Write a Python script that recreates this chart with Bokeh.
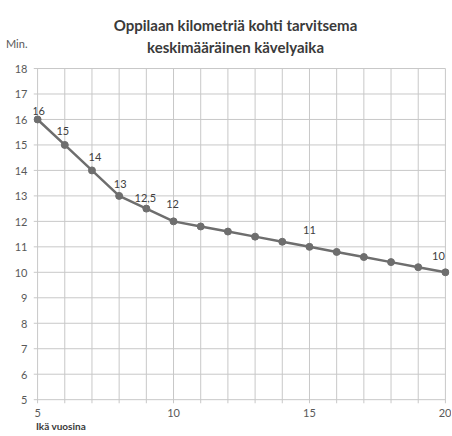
from bokeh.plotting import figure
from bokeh.models import Range1d, FixedTicker, Label, LinearAxis, ColumnDataSource
from bokeh.core.properties import value
from bokeh.embed import file_html
from bokeh.resources import INLINE

# --- data ---
ages = [5, 6, 7, 8, 9, 10, 11, 12, 13, 14, 15, 16, 17, 18, 19, 20]
minutes = [16, 15, 14, 13, 12.5, 12, 11.8, 11.6, 11.4, 11.2, 11, 10.8, 10.6, 10.4, 10.2, 10]
label_ages = [5, 6, 7, 8, 9, 10, 15, 20]
label_minutes = [16, 15, 14, 13, 12.5, 12, 11, 10]
label_texts = ["16", "15", "14", "13", "12,5", "12", "11", "10"]
x_ticks = [5, 10, 15, 20]
x_minor = list(range(5, 21))
y_ticks = list(range(5, 19))
title_lines = ["Oppilaan kilometriä kohti tarvitsema", "keskimääräinen kävelyaika"]
y_title = "Min."
x_title = "Ikä vuosina"

# --- style ---
label_dx = [1, -2, 3, 1, -1, -1, 0, -7]
label_dy = [-8, -14, -13, -12, -11, -17, -17, -16]
FONT = "Lato"
GRID = "#c8c8c8"
LINE = "#6e6e6e"
TXT = "#595959"
DARK = "#3a3a3a"
W, H = 451, 434
X0, X1 = 4.85, 20.15
Y0, Y1 = 4.85, 20.67
YTITLE_POS = 19.0
XTITLE_POS = 5.86

p = figure(width=W, height=H, output_backend="svg", toolbar_location=None,
           x_range=Range1d(X0, X1), y_range=Range1d(Y0, Y1),
           min_border_left=33, min_border_right=2, min_border_top=0, min_border_bottom=31)
p.outline_line_color = None
p.background_fill_color = "white"
p.grid.visible = False

def plain(ax):
    ax.axis_line_color = None
    ax.major_tick_line_color = None
    ax.minor_tick_line_color = None
    ax.major_tick_out = 0
    ax.minor_tick_out = 0
    ax.major_tick_in = 0
    ax.minor_tick_in = 0
    ax.major_label_text_font = FONT
    ax.major_label_text_font_size = "11px"
    ax.major_label_text_color = TXT

plain(p.xaxis[0])
plain(p.yaxis[0])
p.xaxis.ticker = FixedTicker(ticks=x_ticks)
p.xaxis.major_label_standoff = 5
p.yaxis.ticker = FixedTicker(ticks=y_ticks + [YTITLE_POS])
p.yaxis.major_label_overrides = {YTITLE_POS: y_title}
p.yaxis.major_label_standoff = 6

# x-axis caption as a second (label-only) axis below the first
cap = LinearAxis(ticker=FixedTicker(ticks=[XTITLE_POS]), major_label_overrides={XTITLE_POS: x_title})
plain(cap)
cap.major_label_standoff = 0
cap.major_label_text_font_size = "10px"
cap.major_label_text_font_style = "bold"
cap.major_label_text_color = DARK
p.add_layout(cap, "below")

# grid lines (from the tick positions), stopping at the top/right ends of the axes
p.segment(x0=x_minor, y0=[Y0] * len(x_minor), x1=x_minor, y1=[max(y_ticks)] * len(x_minor),
          line_color=GRID, line_width=1)
p.segment(x0=[X0] * len(y_ticks), y0=y_ticks, x1=[max(x_ticks)] * len(y_ticks), y1=y_ticks,
          line_color=GRID, line_width=1)

src = ColumnDataSource(dict(x=ages, y=minutes))
p.line("x", "y", source=src, line_color=LINE, line_width=2.5)
p.scatter("x", "y", source=src, size=7, fill_color=LINE, line_color=LINE)

lsrc = ColumnDataSource(dict(x=label_ages, y=label_minutes, t=label_texts, dx=label_dx, dy=label_dy))
p.text("x", "y", text="t", source=lsrc, x_offset="dx", y_offset="dy",
       text_align="center", text_baseline="middle",
       text_font=value(FONT), text_font_size="11px", text_color="#404040")

# chart title (inside the frame, screen units from the frame's bottom-left)
common = dict(x_units="screen", y_units="screen", text_baseline="alphabetic", text_align="center",
              text_font=FONT, text_font_style="bold", text_color=DARK, text_font_size="15px")
p.add_layout(Label(x=202, y=379, text=title_lines[0], **common))
p.add_layout(Label(x=202, y=357, text=title_lines[1], **common))

open("out.html", "w").write(file_html(p, INLINE))
